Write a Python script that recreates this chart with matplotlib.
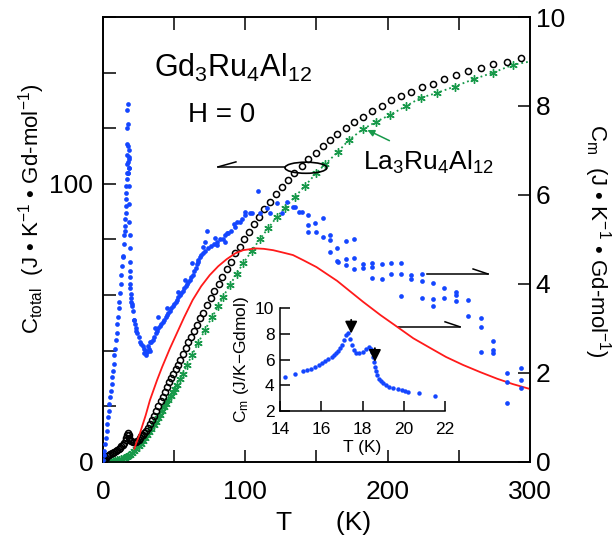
import numpy as np
import matplotlib
matplotlib.use('Agg')
import matplotlib.pyplot as plt
from matplotlib.patches import Ellipse

plt.rcParams['font.family'] = ['Liberation Sans', 'DejaVu Sans']
plt.rcParams['mathtext.fontset'] = 'custom'
plt.rcParams['mathtext.rm'] = 'Liberation Sans'
plt.rcParams['mathtext.it'] = 'Liberation Sans:italic'
plt.rcParams['mathtext.bf'] = 'Liberation Sans:bold'

###############################################################################
# Data
###############################################################################
# Gd3Ru4Al12 total specific heat (left axis), open circles
gd_T = [0.5, 1, 2, 3, 4, 5, 6, 7, 8, 9, 10, 11, 12, 13, 14, 15, 16, 16.5, 17,
        17.5, 18, 18.5, 19, 20, 21, 22, 23, 24, 25, 26, 27, 28, 29, 30, 31.5,
        33, 34.5, 36, 37.5, 39, 40.5, 42, 43.5, 45, 46.5, 48, 49.5, 51, 52.5,
        54, 56, 58, 60, 62, 64, 66, 68.2, 70.3, 73, 75.9, 78, 81.5, 83.6, 87,
        90, 92.7, 96.3, 99, 102.6, 106, 109.6, 113, 117.3, 121.5, 125.8, 130,
        134.2, 139.8, 144.3, 149.6, 154.6, 159.5, 164.4, 170.7, 176.4, 182.7,
        189, 196, 202.3, 209.4, 216.4, 224, 231.8, 239.6, 248, 256.5, 265.5,
        274, 283.8, 293.7]
gd_C = [0.6, 1.0, 1.5, 2.0, 2.4, 2.8, 3.1, 3.4, 3.7, 4.0, 4.4, 4.8, 5.2, 5.7,
        6.2, 6.8, 7.8, 8.8, 9.8, 10.6, 9.8, 8.6, 8.0, 7.6, 7.3, 7.2, 7.3, 7.6,
        8.0, 8.6, 9.2, 9.8, 10.4, 11.0, 12.2, 13.5, 15.0, 16.6, 18.3, 20.0,
        21.8, 23.5, 25.2, 27.0, 28.6, 30.2, 31.8, 33.4, 35.0, 36.6, 38.8, 41.0,
        43.0, 45.0, 47.0, 49.3, 51.8, 53.6, 56.5, 59.0, 61.5, 64.0, 66.5, 69.4,
        72.0, 75.2, 77.3, 80.2, 82.7, 85.6, 88.1, 91.0, 93.5, 96.4, 98.9, 101.4,
        104.0, 106.5, 109.0, 111.2, 113.7, 115.8, 117.8, 120.1, 122.3, 124.2,
        126.3, 128.0, 130.0, 131.5, 133.1, 134.9, 136.0, 137.7, 139.2, 140.6,
        141.7, 143.2, 143.9, 145.3]

# La3Ru4Al12 specific heat (left axis), green asterisks
la_T = [1, 2.5, 4, 5.5, 7, 8.5, 10, 11.5, 13, 14.5, 16, 17.5, 19, 20.5, 22,
        23.5, 25, 26.5, 28, 29.5, 31, 32.5, 34, 35.5, 37, 38.5, 40, 41.5, 43,
        44.5, 46, 47.5, 49, 50.5, 52, 54, 56, 59, 62.5, 66.8, 71.7, 76.5, 81,
        84.5, 89, 94, 98.5, 104.7, 110, 116, 122, 128, 135, 142, 150, 156,
        165, 172.8, 182.7, 191.8, 201.6, 213, 223.4, 234.7, 247, 260.7, 274,
        288]
la_C = [0.02, 0.05, 0.1, 0.18, 0.3, 0.45, 0.6, 0.8, 1.05, 1.35, 1.7, 2.1,
        2.6, 3.2, 3.9, 4.7, 5.6, 6.5, 7.5, 8.6, 9.7, 10.8, 12.0, 13.2, 14.4,
        15.7, 17.0, 18.3, 19.6, 21.0, 22.4, 23.7, 25.0, 26.4, 27.8, 29.8, 31.8,
        34.8, 38.4, 42.8, 47.5, 52.0, 56.0, 59.5, 63.5, 67.7, 71.5, 76.0, 80.0,
        84.0, 88.0, 91.5, 95.4, 99.3, 104.0, 107.0, 111.5, 115.8, 119.7,
        122.3, 124.8, 128.0, 131.0, 132.7, 135.0, 137.7, 140.0, 142.8]
la_end = (300, 144.0)

# magnetic specific heat C_m (right axis), blue dots
cm_T = [0.3, 0.6, 1, 1.5, 2, 2.5, 3, 3.5, 4, 4.5, 5, 5.5, 6, 6.5, 7, 7.5, 8,
        8.5, 9, 9.5, 10, 10.5, 11, 11.5, 12, 12.5, 13, 13.5, 14,
        22, 22.5, 23, 23.5, 24, 25, 26, 27, 28, 29, 30, 31, 32, 29, 30.5, 31.5,
        33, 33, 34, 35, 36, 37, 38, 39, 40, 41, 42, 43, 44, 45, 46, 47, 48, 49,
        50, 51, 52, 53, 54, 55, 56, 57, 58, 59, 60, 61, 62, 63, 64, 65, 66,
        67, 68, 69, 70, 72, 74, 76, 78, 80, 82, 84, 86, 88, 90, 92, 94, 96,
        98, 100,
        36.5, 38.6, 45, 52.7, 57.6, 62.5, 67, 70, 71.5, 73, 79, 80, 86, 87,
        93, 100, 103, 105, 109, 110.3, 115, 117, 122, 125.8, 129, 133.5, 135,
        138, 140, 144, 144, 144, 149, 150, 154.5, 154.5, 159.5, 159.5, 159.5,
        164.4, 164.4, 165, 170.7, 170.7, 170.7, 176.4, 176.4, 176.4, 182.7,
        182.7, 189, 189, 189, 196, 196, 202.3, 202.3, 209.4, 209.4, 209.4,
        216.4, 216.4, 224, 224, 224, 231.8, 231.8, 231.8, 239.6, 239.6, 248,
        248, 248, 256.5, 256.5, 265.5, 265.5, 265.5, 274, 274, 274, 284, 284,
        284, 293.7, 293.7, 293.7]
cm_val = [0.05, 0.15, 0.25, 0.4, 0.55, 0.7, 0.85, 1.0, 1.15, 1.3, 1.45, 1.6,
          1.75, 1.9, 2.05, 2.2, 2.4, 2.55, 2.75, 2.9, 3.1, 3.25, 3.45, 3.6,
          3.8, 4.0, 4.2, 4.4, 4.6,
          3.2, 3.1, 3.0, 2.95, 2.9, 2.8, 2.7, 2.65, 2.6, 2.55, 2.5, 2.48, 2.55,
          2.45, 2.4, 2.6, 2.7, 2.5, 2.7, 2.75, 2.8, 2.9, 2.95, 3.0, 3.05, 3.1,
          3.15, 3.2, 3.25, 3.3, 3.35, 3.4, 3.45, 3.5, 3.55, 3.6, 3.65, 3.7,
          3.75, 3.8, 3.85, 3.9, 3.95, 4.0, 4.05, 4.1, 4.15, 4.2, 4.3, 4.35,
          4.45, 4.5, 4.6, 4.65, 4.7, 4.75, 4.8, 4.85, 4.9, 4.95, 5.0, 5.0, 5.1,
          5.15, 5.2, 5.35, 5.4, 5.4, 5.45, 5.55,
          3.0, 3.26, 3.45, 3.82, 4.09, 4.47, 4.55, 4.84, 4.95, 5.2, 5.03, 4.88,
          4.95, 5.15, 5.28, 5.62, 5.6, 5.6, 6.1, 5.6, 5.7, 5.6, 5.82, 5.6, 5.85,
          5.74, 5.73, 5.62, 5.62, 5.55, 5.33, 5.17, 5.37, 5.17, 5.48, 5.06,
          5.1, 4.99, 4.72, 4.81, 4.52, 4.5, 4.97, 4.56, 4.43, 5.01, 4.58, 4.34,
          4.45, 4.36, 4.47, 4.38, 4.13, 4.45, 4.11, 4.47, 4.22, 4.47, 4.22,
          3.73, 4.2, 4.11, 4.22, 4.07, 3.69, 4.02, 3.66, 3.5, 3.91, 3.69, 3.82,
          3.75, 3.62, 3.64, 3.28, 3.24, 3.03, 2.47, 2.72, 2.52, 2.45, 2.0, 1.8,
          1.33, 2.11, 1.84, 1.66]

# C_m around the transitions (inset, also shown in main panel)
ins_T = [14.24, 14.73, 15.1, 15.3, 15.5, 15.7, 15.9, 16.05, 16.2, 16.35, 16.5,
         16.6, 16.7, 16.8, 16.9, 17.0, 17.1, 17.2, 17.3, 17.4, 17.5, 17.6,
         17.7, 17.85, 18.0, 18.15, 18.3, 18.4, 18.45, 18.5, 18.55, 18.6, 18.65,
         18.7, 18.8, 18.9, 19.0, 19.15, 19.3, 19.5, 19.7, 19.9, 20.05, 20.2,
         20.75, 21.5]
ins_cm = [4.64, 4.9, 5.1, 5.2, 5.3, 5.45, 5.6, 5.75, 5.9, 6.05, 6.2, 6.35,
          6.5, 6.7, 6.9, 7.15, 7.5, 7.9, 8.05, 7.6, 7.1, 6.75, 6.5, 6.5, 6.6,
          6.8, 7.0, 6.85, 6.6, 6.2, 5.8, 5.4, 5.1, 4.8, 4.5, 4.3, 4.15, 4.0,
          3.9, 3.78, 3.68, 3.6, 3.55, 3.5, 3.4, 3.2]
ins_arrows_T = [17.45, 18.6]

# Schottky curve (right axis), red line
sch_T = [22, 26, 30, 33, 38, 41.5, 47, 52, 57, 63, 69, 75, 81, 87, 93, 98.5,
         107, 113, 119.5, 126, 133.5, 141, 150, 157, 164.5, 173, 182.7, 195,
         207, 218, 230, 241, 253, 265, 277, 288, 300]
sch_cm = [0.3, 0.65, 1.05, 1.39, 1.84, 2.13, 2.55, 2.9, 3.25, 3.64, 3.95, 4.2,
          4.4, 4.56, 4.69, 4.76, 4.8, 4.79, 4.76, 4.71, 4.65, 4.53, 4.38, 4.23,
          4.07, 3.85, 3.6, 3.3, 3.03, 2.78, 2.56, 2.36, 2.18, 2.02, 1.87, 1.75,
          1.64]

BLUE = '#1446ff'
GREEN = '#17994a'
RED = '#ff1a1a'
###############################################################################
# Main panel
###############################################################################
fig = plt.figure(figsize=(6.13, 5.38), dpi=100)
ax = fig.add_axes([0.168, 0.1413, 0.6966, 0.8271])
ax2 = ax.twinx()

ax.plot(
    list(la_T) + [la_end[0]], list(la_C) + [la_end[1]],
    linestyle=':', color=GREEN, lw=1.3, zorder=2
)
ax.plot(
    la_T, la_C, linestyle='none', marker=(6, 2, 0), ms=6, mew=1.0,
    color=GREEN, zorder=3
)
ax.plot(
    gd_T, gd_C, linestyle='none', marker='o', ms=4.4, mfc='none', mec='k',
    mew=1.1, zorder=4
)
ax2.plot(sch_T, sch_cm, color=RED, lw=1.3, zorder=2)
ax2.plot(
    cm_T + ins_T, cm_val + ins_cm, linestyle='none', marker='o', ms=3.4,
    color=BLUE, mew=0, zorder=3
)

ax.set_xlim(0, 300)
ax.set_ylim(0, 160)
ax2.set_ylim(0, 10)
ax.set_xticks(np.arange(0, 301, 50))
ax.set_xticklabels(['0', '', '100', '', '200', '', '300'])
ax.set_yticks(np.arange(0, 161, 20))
ax.set_yticklabels(['0', '', '', '', '', '100', '', '', ''])
ax2.set_yticks(np.arange(0, 11, 2))
ax.tick_params(direction='in', length=9, width=1.1, labelsize=19, top=True,
               right=False)
ax.tick_params(axis='x', pad=13)
ax.tick_params(axis='y', pad=7)
ax2.tick_params(direction='in', length=9, width=1.1, labelsize=19, pad=4)
for a in (ax, ax2):
    for s in a.spines.values():
        s.set_linewidth(1.2)

# annotation marks ------------------------------------------------------------
ax.add_patch(Ellipse((142.6, 105.8), 29.5, 4.0, fill=False, lw=1.2,
                     color='k', zorder=5))
ax.plot([80.8, 127.9], [106.1, 106.1], color='k', lw=1.1, zorder=5)
ax.plot([80.8, 93.4], [106.1, 107.9], color='k', lw=1.1, zorder=5)
ax.plot([227.6, 270.5], [67.6, 67.6], color='k', lw=1.1, zorder=5)
ax.plot([270.5, 260.0], [67.6, 69.4], color='k', lw=1.1, zorder=5)
ax.plot([207.3, 250.8], [48.6, 48.6], color='k', lw=1.1, zorder=5)
ax.plot([250.8, 240.3], [48.6, 50.4], color='k', lw=1.1, zorder=5)
ax.annotate(
    '', xy=(184, 119.8), xytext=(203, 115.1),
    arrowprops=dict(arrowstyle='-|>', color=GREEN, lw=1.1, mutation_scale=10)
)

ax.text(0.304, 0.885, r'Gd$_3$Ru$_4$Al$_{12}$', transform=ax.transAxes,
        ha='center', va='center', fontsize=22)
ax.text(0.277, 0.78, 'H = 0', transform=ax.transAxes,
        ha='center', va='center', fontsize=20)
ax.text(0.761, 0.674, r'La$_3$Ru$_4$Al$_{12}$', transform=ax.transAxes,
        ha='center', va='center', fontsize=19)

fig.text(324/613, 1-523/538, 'T      (K)', ha='center', va='center',
         fontsize=19)
fig.text(32/613, 1-209/538,
         r'C$_{\rm total}$  (J • K$^{-1}$ • Gd-mol$^{-1}$)',
         rotation=90, ha='center', va='center', fontsize=16)
fig.text(597/613, 1-241/538,
         r'C$_{\rm m}$  (J • K$^{-1}$ • Gd-mol$^{-1}$)',
         rotation=-90, ha='center', va='center', fontsize=16)

###############################################################################
# Inset
###############################################################################
ins = fig.add_axes([0.4568, 0.236, 0.2692, 0.1915])
ins.set_facecolor('none')
ins.plot(ins_T, ins_cm, linestyle='none', marker='o', ms=3.2, color=BLUE,
         mew=0)
for t in ins_arrows_T:
    i = ins_T.index(min(ins_T, key=lambda v: abs(v - t)))
    ins.annotate(
        '', xy=(t, ins_cm[i] + 0.2), xytext=(t, ins_cm[i] + 1.7),
        arrowprops=dict(arrowstyle='-|>', color='k', lw=1.3,
                        mutation_scale=18)
    )
ins.set_xlim(14, 22)
ins.set_ylim(2, 10)
ins.set_xticks(np.arange(14, 23, 2))
ins.set_yticks(np.arange(2, 11, 2))
ins.spines['top'].set_visible(False)
ins.spines['right'].set_visible(False)
for s in ('left', 'bottom'):
    ins.spines[s].set_linewidth(1.1)
ins.tick_params(direction='in', length=7, width=1.1, labelsize=12.5)
ins.tick_params(axis='x', pad=8)
ins.tick_params(axis='y', pad=4)
ins.set_xlabel('T (K)', fontsize=12.5, labelpad=2)
ins.set_ylabel(r'C$_{\rm m}$ (J/K$-$Gdmol)', fontsize=12.5, labelpad=3)

fig.savefig('out.png', dpi=100, facecolor='white')
plt.close('all')
